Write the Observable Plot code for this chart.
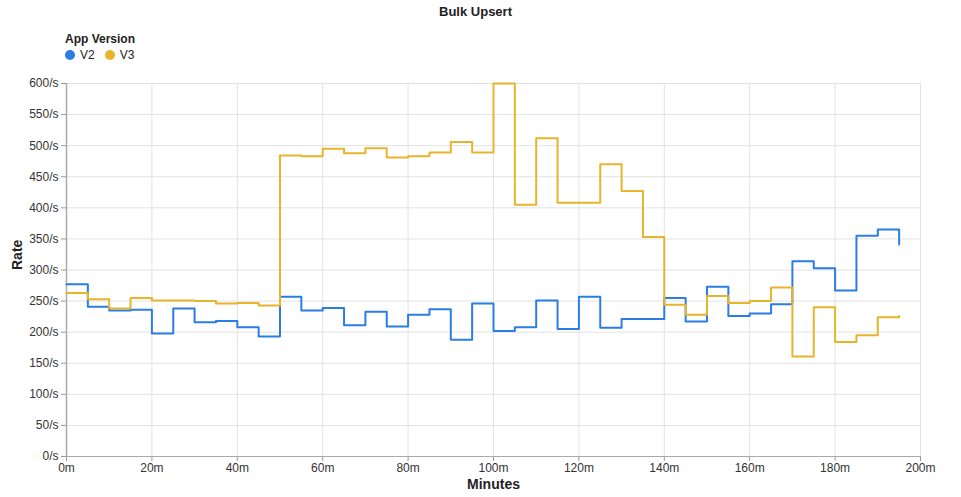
<!DOCTYPE html>
<html>
<head>
<meta charset="utf-8">
<script src="https://cdn.jsdelivr.net/npm/d3@7"></script>
<script src="https://cdn.jsdelivr.net/npm/@observablehq/plot@0.6"></script>
<style>
  html, body { margin: 0; padding: 0; background: #fff; }
  body { font-family: "Liberation Sans", Arial, Helvetica, sans-serif; }
  #wrap { position: relative; width: 961px; height: 497px; overflow: hidden; }
  #title { position: absolute; left: 0; width: 951px; top: 4px; text-align: center; font-weight: bold; font-size: 13px; color: #222; }
  #legend { position: absolute; left: 65px; top: 32px; font-size: 12px; color: #222; }
  #legend .lt { font-weight: bold; font-size: 12px; margin-bottom: 2px; }
  #legend .item { display: inline-flex; align-items: center; margin-right: 10px; font-size: 12px; }
  #legend .sw { width: 10px; height: 10px; border-radius: 50%; margin-right: 5px; display: inline-block; }
  #chart { position: absolute; left: 0; top: 0; }
</style>
</head>
<body>
<div id="wrap">
  <div id="chart"></div>
  <div id="title"></div>
  <div id="legend"></div>
</div>
<script>
const chartTitle = "Bulk Upsert";
const legendTitle = "App Version";
const seriesNames = ["V2", "V3"];
const seriesColors = ["#2b7de6", "#e8b42c"];
const minutes = [0,5,10,15,20,25,30,35,40,45,50,55,60,65,70,75,80,85,90,95,100,105,110,115,120,125,130,135,140,145,150,155,160,165,170,175,180,185,190,195];
const v2 = [277,241,235,236,198,238,216,218,208,193,257,235,239,211,233,209,228,237,188,246,202,208,251,205,257,207,221,221,255,217,273,226,230,245,314,303,267,355,365,341];
const v3 = [263,253,238,255,251,251,250,246,247,243,484,483,495,488,496,481,483,489,506,489,600,405,512,408,408,470,427,353,244,228,258,247,250,272,161,240,184,195,224,226];
const xTicks = [0,20,40,60,80,100,120,140,160,180,200];
const yTicks = [0,50,100,150,200,250,300,350,400,450,500,550,600];

const data = [];
minutes.forEach((m, i) => {
  data.push({minute: m, rate: v2[i], version: "V2"});
  data.push({minute: m, rate: v3[i], version: "V3"});
});

document.getElementById("title").textContent = chartTitle;
const leg = document.getElementById("legend");
leg.innerHTML = `<div class="lt">${legendTitle}</div>` + seriesNames.map((n, i) =>
  `<span class="item"><span class="sw" style="background:${seriesColors[i]}"></span>${n}</span>`).join("");

const fmtX = d => d + "m";
const fmtY = d => d + "/s";

const chart = Plot.plot({
  width: 961,
  height: 497,
  marginTop: 83,
  marginBottom: 41,
  marginLeft: 66,
  marginRight: 41,
  style: { fontFamily: '"Liberation Sans", Arial, sans-serif', fontSize: "12px", color: "#333", background: "white" },
  x: { domain: [0, 200], label: null },
  y: { domain: [0, 600], label: null },
  color: { domain: seriesNames, range: seriesColors },
  marks: [
    Plot.gridX(xTicks, { stroke: "#e2e2e2", strokeOpacity: 1 }),
    Plot.gridY(yTicks, { stroke: "#e2e2e2", strokeOpacity: 1 }),
    Plot.axisX(xTicks, { tickSize: 5, tickPadding: 2, tickFormat: fmtX, stroke: "#999", fontSize: 12, fill: "#333", label: null }),
    Plot.axisY(yTicks, { tickSize: 5, tickPadding: 3, tickFormat: fmtY, stroke: "#999", fontSize: 12, fill: "#333", label: null }),
    Plot.ruleX([0], { stroke: "#aaa", strokeWidth: 1.5 }),
    Plot.ruleY([0], { stroke: "#aaa", strokeWidth: 1 }),
    Plot.line(data, { x: "minute", y: "rate", z: "version", stroke: "version", curve: "step-after", strokeWidth: 2 }),
    Plot.text(["Minutes"], { frameAnchor: "bottom", dy: 32, fontWeight: "bold", fontSize: 14, fill: "#222" }),
    Plot.text(["Rate"], { frameAnchor: "left", dx: -49, rotate: -90, fontWeight: "bold", fontSize: 14, fill: "#222" })
  ]
});
document.getElementById("chart").appendChild(chart);
</script>
</body>
</html>
